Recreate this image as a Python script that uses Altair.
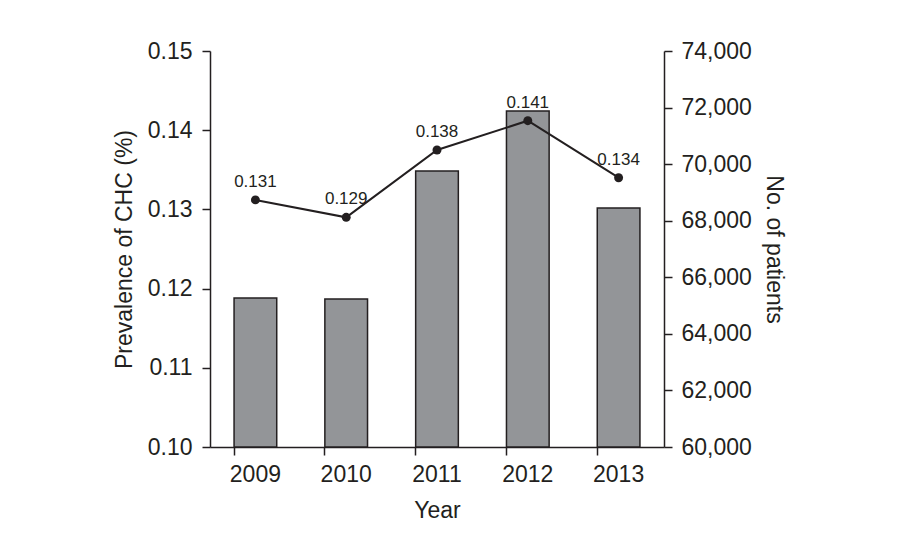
import altair as alt
import pandas as pd

years = ["2009", "2010", "2011", "2012", "2013"]
patients = [65270, 65230, 69760, 71880, 68450]
prevalence = [0.1312, 0.1290, 0.1375, 0.1412, 0.1340]
prev_labels = ["0.131", "0.129", "0.138", "0.141", "0.134"]

df = pd.DataFrame({"year": years, "patients": patients,
                   "prev": prevalence, "label": prev_labels})

INK = "#231f20"
FONT = "Liberation Sans"
FS = 23

x = alt.X("year:N", title="Year", sort=years,
          scale=alt.Scale(paddingInner=0.53, paddingOuter=0.265),
          axis=alt.Axis(labelAngle=0, bandPosition=0, labelFontSize=FS,
                        titleFontSize=FS, titleFontWeight="normal",
                        tickSize=8, labelPadding=8, titlePadding=13,
                        domainColor=INK, tickColor=INK, labelColor=INK,
                        titleColor=INK, domainWidth=1.5, tickWidth=1.5,
                        labelFont=FONT, titleFont=FONT))

bars = alt.Chart(df).mark_bar(color="#939598", stroke=INK, strokeWidth=1.5).encode(
    x=x,
    y=alt.Y("patients:Q", title="No. of patients",
            scale=alt.Scale(domain=[60000, 74000], zero=False, nice=False),
            axis=alt.Axis(orient="right", values=list(range(60000, 74001, 2000)),
                          format=",.0f", grid=False, labelFontSize=FS,
                          titleFontSize=FS, titleFontWeight="normal",
                          tickSize=8, labelPadding=9, titlePadding=10,
                          domainColor=INK, tickColor=INK, labelColor=INK,
                          titleColor=INK, domainWidth=1.5, tickWidth=1.5,
                          labelFont=FONT, titleFont=FONT)),
    y2=alt.datum(60000),
)

yl = alt.Y("prev:Q", title="Prevalence of CHC (%)",
           scale=alt.Scale(domain=[0.10, 0.15], zero=False, nice=False),
           axis=alt.Axis(orient="left", values=[0.10, 0.11, 0.12, 0.13, 0.14, 0.15],
                         format=".2f", grid=False, labelFontSize=FS,
                         titleFontSize=FS, titleFontWeight="normal",
                         tickSize=8, labelPadding=10, titlePadding=11,
                         domainColor=INK, tickColor=INK, labelColor=INK,
                         titleColor=INK, domainWidth=1.5, tickWidth=1.5,
                         labelFont=FONT, titleFont=FONT))

line = alt.Chart(df).mark_line(color=INK, strokeWidth=2).encode(x=x, y=yl)
pts = alt.Chart(df).mark_point(filled=True, color=INK, size=80, opacity=1).encode(x=x, y=yl)
txt = alt.Chart(df).mark_text(font=FONT, fontSize=17, color=INK, baseline="alphabetic",
                              dy=-13).encode(x=x, y=yl, text="label:N")

left = alt.layer(line, pts, txt)

chart = alt.layer(bars, left).resolve_scale(y="independent").properties(
    width=454, height=396,
    autosize=alt.AutoSizeParams(type="none"),
    padding={"left": 210, "top": 51, "right": 236, "bottom": 113},
    background="white",
).configure_view(stroke=None)

chart.save("out.html", embed_options={"renderer": "svg", "actions": False})
